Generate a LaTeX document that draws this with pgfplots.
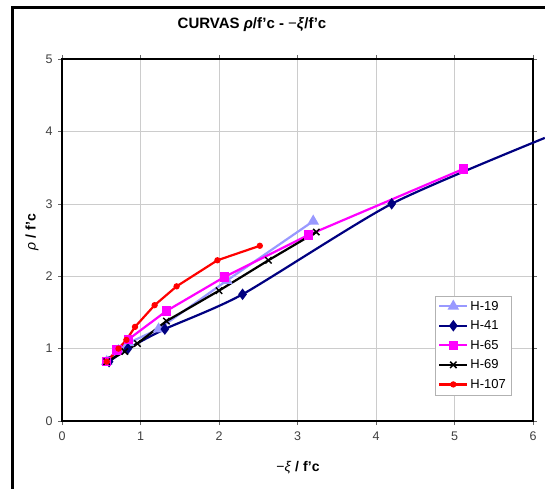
\documentclass[border=0pt]{standalone}
\usepackage{fontspec}
\setmainfont{Liberation Sans}
\usepackage{pgfplots}
\pgfplotsset{compat=1.18}
\definecolor{lblue}{RGB}{153,153,255}
\definecolor{navy}{RGB}{0,0,128}
\definecolor{mag}{RGB}{255,0,255}
\begin{document}
\begin{tikzpicture}[x=1pt,y=1pt]
\path[use as bounding box] (0,0) rectangle (545,488);
\draw[line width=3pt] (12,-20) -- (12,480) -- (570,480);
\begin{axis}[
  at={(62pt,67pt)}, anchor=south west,
  scale only axis, width=471pt, height=362pt,
  xmin=0, xmax=6, ymin=0, ymax=5,
  xtick={0,1,2,3,4,5,6}, ytick={0,1,2,3,4,5},
  clip=false,
  axis line style={line width=2.5pt},
  grid=major, major grid style={gray!40, line width=0.6pt},
  tick align=outside, major tick length=4pt,
  tick style={black!60, line width=0.6pt},
  ticklabel style={font=\fontsize{12.5}{14}\selectfont, text=black!75},
  xticklabel style={yshift=-3pt},
  yticklabel style={xshift=-2pt},
  /pgf/number format/assume math mode=true,
  legend style={at={(axis cs:5.72,1.73)}, anchor=north east, draw=gray!60,
    font=\fontsize{13}{15}\selectfont, inner sep=3pt, row sep=5pt},
  legend cell align=left,
  legend image code/.code={\draw[mark indices={2}] plot coordinates {(0pt,0pt)(14pt,0pt)(28pt,0pt)};},
]
\addplot[lblue, line width=2.2pt, mark=triangle*, mark size=4.5pt] coordinates {
(0.57,0.82)(0.72,0.97)(0.85,1.08)(1.23,1.27)(2.10,1.94)(3.20,2.76)};
\addlegendentry{H-19}
\addplot[navy, line width=2.2pt, mark=diamond*, mark size=4pt, smooth, tension=0.4, mark indices={1,2,3,4,5}] coordinates {
(0.60,0.82)(0.84,1.00)(1.31,1.27)(2.30,1.75)(4.20,3.00)(6.15,3.91)};
\addlegendentry{H-41}
\addplot[mag, line width=2.2pt, mark=square*, mark size=3.5pt] coordinates {
(0.57,0.82)(0.70,0.98)(0.85,1.13)(1.33,1.52)(2.07,1.99)(3.14,2.57)(5.11,3.48)};
\addlegendentry{H-65}
\addplot[black, line width=2.2pt, mark=x, mark size=4.5pt, mark options={line width=1.5pt}] coordinates {
(0.57,0.82)(0.80,0.96)(0.96,1.07)(1.33,1.38)(2.00,1.80)(2.63,2.22)(3.24,2.61)};
\addlegendentry{H-69}
\addplot[red, line width=2.2pt, mark=*, mark size=2pt] coordinates {
(0.57,0.82)(0.72,1.00)(0.82,1.12)(0.93,1.30)(1.18,1.60)(1.46,1.86)(1.98,2.22)(2.52,2.42)};
\addlegendentry{H-107}
\end{axis}
\node[font=\bfseries\fontsize{15}{17}\selectfont] at (252,463) {CURVAS \textit{ρ}/f'c - \textmd{−}\textit{ξ}/f'c};
\node[font=\bfseries\fontsize{14}{16}\selectfont, rotate=90] at (32,256) {\textit{\mdseries ρ} / f'c};
\node[font=\bfseries\fontsize{14}{16}\selectfont] at (298,20) {\textmd{−}\textit{\mdseries ξ} / f'c};
\end{tikzpicture}
\end{document}
